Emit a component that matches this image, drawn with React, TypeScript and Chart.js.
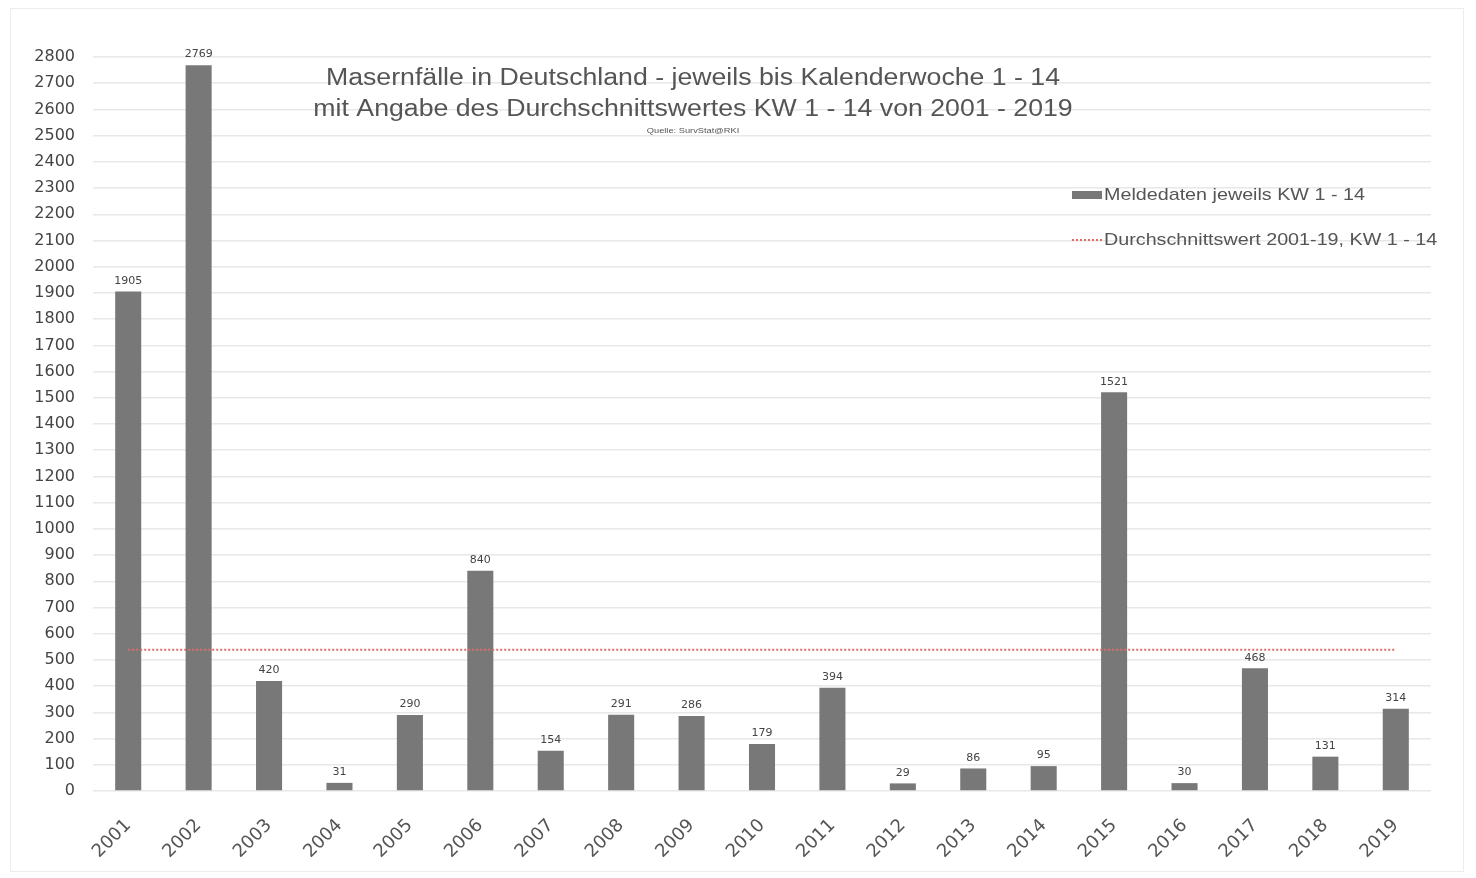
import React, { useEffect, useRef } from "react";
import { Chart, registerables } from "chart.js";

Chart.register(...registerables);

const YEARS = ["2001","2002","2003","2004","2005","2006","2007","2008","2009","2010","2011","2012","2013","2014","2015","2016","2017","2018","2019"];
const CASES = [1905, 2769, 420, 31, 290, 840, 154, 291, 286, 179, 394, 29, 86, 95, 1521, 30, 468, 131, 314];
const AVERAGE = 539;
const TITLE_LINES = [
  "Masernfälle in Deutschland - jeweils bis Kalenderwoche 1 - 14",
  "mit Angabe des Durchschnittswertes KW 1 - 14 von 2001 - 2019",
];
const SOURCE = "Quelle: SurvStat@RKI";
const LEGEND_BAR = "Meldedaten jeweils KW 1 - 14";
const LEGEND_LINE = "Durchschnittswert 2001-19, KW 1 - 14";

const FONT = "'Liberation Sans', Arial, sans-serif";
const TICK_FONT = "'DejaVu Sans', sans-serif";
const BAR_COLOR = "#787878";
const LINE_COLOR = "#e06b6b";
const STRETCH = 1.16;

function stretchedText(ctx: CanvasRenderingContext2D, text: string, x: number, y: number, sx: number) {
  ctx.save();
  ctx.translate(x, y);
  ctx.scale(sx, 1);
  ctx.fillText(text, 0, 0);
  ctx.restore();
}

export default function App() {
  const ref = useRef<HTMLCanvasElement | null>(null);

  useEffect(() => {
    document.body.style.margin = "0";
    const canvas = ref.current;
    if (!canvas) return;

    const overlay = {
      id: "overlay",
      afterDatasetsDraw(chart: any) {
        const ctx = chart.ctx;
        const meta = chart.getDatasetMeta(0);
        ctx.save();
        ctx.fillStyle = "#444";
        ctx.font = `11px ${TICK_FONT}`;
        ctx.textAlign = "center";
        ctx.textBaseline = "bottom";
        meta.data.forEach((el: any, i: number) => {
          ctx.fillText(String(CASES[i]), el.x, el.y - 5);
        });
        ctx.restore();
      },
      afterDraw(chart: any) {
        const ctx = chart.ctx;
        ctx.save();
        // title
        ctx.fillStyle = "#555";
        ctx.textAlign = "center";
        ctx.textBaseline = "middle";
        ctx.font = `23px ${FONT}`;
        stretchedText(ctx, TITLE_LINES[0], 693, 79, STRETCH);
        stretchedText(ctx, TITLE_LINES[1], 693, 110, STRETCH);
        ctx.font = `8px ${FONT}`;
        stretchedText(ctx, SOURCE, 693, 131, STRETCH);
        // legend
        ctx.textAlign = "left";
        ctx.font = `17px ${FONT}`;
        ctx.fillStyle = BAR_COLOR;
        ctx.fillRect(1072, 191, 30, 8);
        ctx.fillStyle = "#555";
        stretchedText(ctx, LEGEND_BAR, 1104, 195, STRETCH);
        ctx.strokeStyle = LINE_COLOR;
        ctx.lineWidth = 2;
        ctx.setLineDash([2, 2]);
        ctx.beginPath();
        ctx.moveTo(1072, 240);
        ctx.lineTo(1102, 240);
        ctx.stroke();
        ctx.setLineDash([]);
        stretchedText(ctx, LEGEND_LINE, 1104, 240, STRETCH);
        ctx.restore();
      },
    };

    const chart = new Chart(canvas, {
      type: "bar",
      data: {
        labels: YEARS,
        datasets: [
          {
            type: "bar",
            label: LEGEND_BAR,
            data: CASES,
            backgroundColor: BAR_COLOR,
            barPercentage: 0.37,
            categoryPercentage: 1,
            order: 2,
          },
          {
            type: "line",
            label: LEGEND_LINE,
            data: YEARS.map(() => AVERAGE),
            borderColor: LINE_COLOR,
            borderWidth: 2,
            borderDash: [2, 2],
            pointRadius: 0,
            fill: false,
            order: 1,
          } as any,
        ],
      },
      options: {
        animation: false,
        responsive: false,
        maintainAspectRatio: false,
        layout: { padding: { top: 57, right: 45, left: 0, bottom: 0 } },
        plugins: {
          legend: { display: false },
          title: { display: false },
          tooltip: { enabled: false },
        },
        scales: {
          x: {
            grid: { display: false },
            border: { display: false },
            ticks: {
              color: "#555",
              font: { family: TICK_FONT, size: 18 },
              maxRotation: 45,
              minRotation: 45,
              padding: 16,
            },
            afterFit(scale: any) {
              scale.height = 87;
            },
          },
          y: {
            min: 0,
            max: 2800,
            grid: { color: "#e8e8e8", lineWidth: 1.5, drawTicks: false },
            border: { display: false },
            ticks: {
              stepSize: 100,
              color: "#444",
              font: { family: TICK_FONT, size: 16 },
              padding: 18,
              callback: (v: any) => String(v),
            },
            afterFit(scale: any) {
              scale.width = 93;
            },
          },
        },
      },
      plugins: [overlay],
    });
    return () => chart.destroy();
  }, []);

  return (
    <div style={{ position: "relative", width: 1476, height: 878, background: "#fff" }}>
      <div
        style={{
          position: "absolute",
          left: 10,
          top: 8,
          width: 1454,
          height: 864,
          border: "1px solid #ececec",
          boxSizing: "border-box",
        }}
      />
      <canvas ref={ref} width={1476} height={878} style={{ position: "absolute", left: 0, top: 0, display: "block" }} />
    </div>
  );
}
